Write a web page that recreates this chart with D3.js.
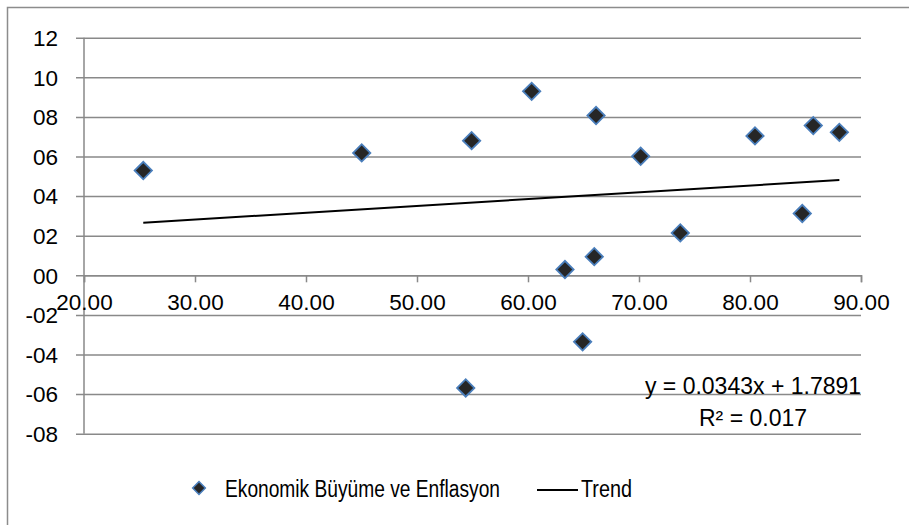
<!DOCTYPE html>
<html>
<head>
<meta charset="utf-8">
<script src="https://cdn.jsdelivr.net/npm/d3@7/dist/d3.min.js"></script>
<style>
  html, body { margin: 0; padding: 0; background: #fff; }
  svg { display: block; font-family: "Liberation Sans", Arial, sans-serif; }
</style>
</head>
<body>
<svg id="chart" width="909" height="525"></svg>
<script>
// ---- data ----
const growth =    [25.34, 45.02, 54.92, 60.33, 66.13, 70.15, 80.45, 85.70, 88.05, 63.33, 65.97, 73.72, 84.71, 64.92, 54.39];
const inflation = [5.29,  6.18,  6.80,  9.29,  8.07,  6.01,  7.04,  7.56,  7.22,  0.29,  0.94,  2.14,  3.12, -3.36, -5.69];
const yTicks = [12, 10, 8, 6, 4, 2, 0, -2, -4, -6, -8];
const yTickLabels = ["12", "10", "08", "06", "04", "02", "00", "-02", "-04", "-06", "-08"];
const xTicks = [20, 30, 40, 50, 60, 70, 80, 90];
const xTickLabels = ["20.00", "30.00", "40.00", "50.00", "60.00", "70.00", "80.00", "90.00"];
const trendSlope = 0.0343;
const trendIntercept = 1.7891;
const equationText = "y = 0.0343x + 1.7891";
const r2Text = "R² = 0.017";
const seriesName = "Ekonomik Büyüme ve Enflasyon";
const trendName = "Trend";

// ---- layout ----
const svg = d3.select("#chart");
const grid = "#898989";
const x = d3.scaleLinear().domain([20, 90]).range([84, 861]);
const y = d3.scaleLinear().domain([-8, 12]).range([433.7, 37.7]);

// outer border (only top/left visible)
svg.append("rect").attr("x", 7.5).attr("y", 7.5).attr("width", 920).attr("height", 540)
  .attr("fill", "none").attr("stroke", "#8c8c8c").attr("stroke-width", 1.5);

// horizontal gridlines + y axis (ticks extend left)
const yAxis = d3.axisLeft(y).tickValues(yTicks).tickSize(-(861 - 76)).tickPadding(0)
  .tickFormat((d, i) => yTickLabels[i]);
const gy = svg.append("g").attr("transform", "translate(76,0)").call(yAxis);
gy.select(".domain").remove();
gy.selectAll(".tick line").attr("stroke", grid).attr("stroke-width", 1.5);
gy.selectAll(".tick text").attr("x", -18).attr("fill", "#000").attr("font-size", 22.5)
  .attr("font-family", "Liberation Sans, Arial, sans-serif").attr("dy", "0.35em");

// vertical axis line
svg.append("line").attr("x1", 84).attr("x2", 84).attr("y1", y(12)).attr("y2", y(-8))
  .attr("stroke", grid).attr("stroke-width", 1.5);

// x axis at y = 0
const xAxis = d3.axisBottom(x).tickValues(xTicks).tickSize(7).tickPadding(0)
  .tickFormat((d, i) => xTickLabels[i]);
const gx = svg.append("g").attr("transform", `translate(0,${y(0)})`).call(xAxis);
gx.select(".domain").attr("stroke", grid).attr("stroke-width", 1.5);
gx.selectAll(".tick line").attr("stroke", grid).attr("stroke-width", 1.5);
gx.selectAll(".tick text").attr("y", 35).attr("dy", 0).attr("fill", "#000").attr("font-size", 22.5)
  .attr("font-family", "Liberation Sans, Arial, sans-serif");

// trend line
const xmin = d3.min(growth), xmax = d3.max(growth);
svg.append("line")
  .attr("x1", x(xmin)).attr("y1", y(trendSlope * xmin + trendIntercept))
  .attr("x2", x(xmax)).attr("y2", y(trendSlope * xmax + trendIntercept))
  .attr("stroke", "#000").attr("stroke-width", 2);

// points
const diamond = d3.symbol().type(d3.symbolSquare).size(150);
svg.append("g").selectAll("path").data(growth).join("path")
  .attr("d", diamond)
  .attr("transform", (d, i) => `translate(${x(d)},${y(inflation[i])}) rotate(45)`)
  .attr("fill", "#262626").attr("stroke", "#4a7ebb").attr("stroke-width", 1.8);

// equation
svg.append("text").attr("x", 753).attr("y", 394).attr("text-anchor", "middle")
  .attr("font-size", 23).attr("fill", "#000").text(equationText);
svg.append("text").attr("x", 753).attr("y", 426).attr("text-anchor", "middle")
  .attr("font-size", 23).attr("fill", "#000").text(r2Text);

// legend
svg.append("path").attr("d", d3.symbol().type(d3.symbolSquare).size(80))
  .attr("transform", "translate(199,488) rotate(45)")
  .attr("fill", "#262626").attr("stroke", "#4a7ebb").attr("stroke-width", 1.5);
svg.append("text").attr("x", 225).attr("y", 496.5).attr("font-size", 23)
  .attr("textLength", 275).attr("lengthAdjust", "spacingAndGlyphs").attr("fill", "#000").text(seriesName);
svg.append("line").attr("x1", 537).attr("x2", 578).attr("y1", 490).attr("y2", 490)
  .attr("stroke", "#000").attr("stroke-width", 2);
svg.append("text").attr("x", 581).attr("y", 496.5).attr("font-size", 23)
  .attr("textLength", 51).attr("lengthAdjust", "spacingAndGlyphs").attr("fill", "#000").text(trendName);
</script>
</body>
</html>
